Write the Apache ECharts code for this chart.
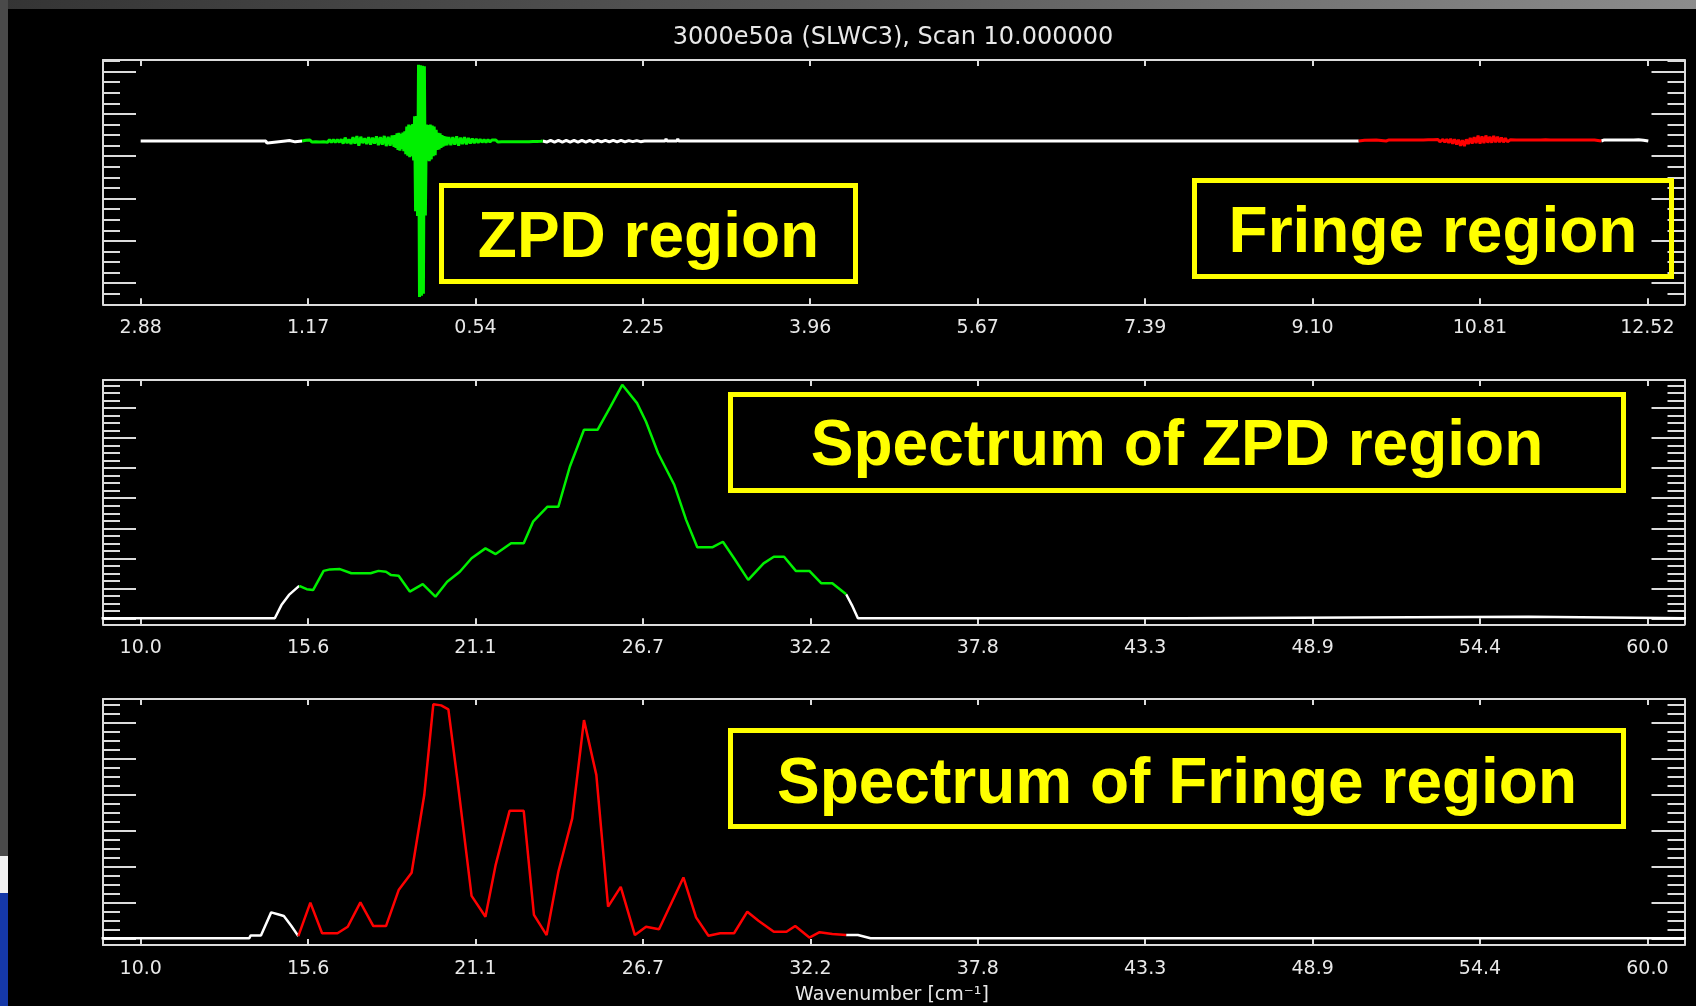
<!DOCTYPE html>
<html>
<head>
<meta charset="utf-8">
<title>3000e50a (SLWC3), Scan 10.000000</title>
<script src="https://cdn.jsdelivr.net/npm/echarts@6/dist/echarts.min.js"></script>
<style>
  html, body { margin: 0; padding: 0; background: #000; }
  #chart { width: 1696px; height: 1006px; }
</style>
</head>
<body>
<div id="chart"></div>
<script>
// ---------- tick values and labels ----------
const opdTickValues = [-2.880, -1.169, 0.542, 2.253, 3.964, 5.676, 7.387, 9.098, 10.809, 12.520];
const opdTickLabels = ['2.88', '1.17', '0.54', '2.25', '3.96', '5.67', '7.39', '9.10', '10.81', '12.52'];
const wnTickValues = [10.0, 15.556, 21.111, 26.667, 32.222, 37.778, 43.333, 48.889, 54.444, 60.0];
const wnTickLabels = ['10.0', '15.6', '21.1', '26.7', '32.2', '37.8', '43.3', '48.9', '54.4', '60.0'];

const ifgMajorTicks = [0.4, 0.2, 0.0, -0.2, -0.4, -0.6];
const ifgMinorTicks = [0.45, 0.35, 0.30, 0.25, 0.15, 0.10, 0.05, -0.05, -0.10, -0.15, -0.25, -0.30,
                       -0.35, -0.45, -0.50, -0.55, -0.65, -0.70];
const zpdMajorTicks = [0, 1, 2, 3, 4, 5, 6, 7];
const zpdMinorTicks = [0.25, 0.5, 0.75, 1.25, 1.5, 1.75, 2.25, 2.5, 2.75, 3.25, 3.5, 3.75,
                       4.25, 4.5, 4.75, 5.25, 5.5, 5.75, 6.25, 6.5, 6.75, 7.25, 7.5, 7.75];
const frgMajorTicks = [0, 1, 2, 3, 4, 5, 6];
const frgMinorTicks = [0.25, 0.5, 0.75, 1.25, 1.5, 1.75, 2.25, 2.5, 2.75, 3.25, 3.5, 3.75,
                       4.25, 4.5, 4.75, 5.25, 5.5, 5.75, 6.25, 6.5];

// ---------- interferogram: [OPD (cm), signal] ----------
const ifgWhiteLeft = [[-2.88, 0.072], [-1.60, 0.072], [-1.59, 0.062], [-1.56, 0.064], [-1.55, 0.072],
  [-1.40, 0.072], [-1.38, 0.068], [-1.36, 0.074], [-1.30, 0.068], [-1.28, 0.074], [-1.23, 0.072]];

const ifgZpd = [
  [-1.23, 0.072], [-1.21, 0.068], [-1.19, 0.076], [-1.17, 0.068], [-1.15, 0.077], [-1.13, 0.067],
  [-1.11, 0.076], [-1.09, 0.068], [-1.07, 0.077], [-1.05, 0.067], [-1.03, 0.076], [-1.01, 0.068],
  [-0.99, 0.077], [-0.97, 0.066], [-0.95, 0.078], [-0.93, 0.066], [-0.91, 0.078], [-0.89, 0.065],
  [-0.87, 0.079], [-0.85, 0.066], [-0.83, 0.080], [-0.81, 0.060], [-0.79, 0.088], [-0.77, 0.062],
  [-0.75, 0.080], [-0.73, 0.058], [-0.71, 0.090], [-0.69, 0.060], [-0.67, 0.095], [-0.65, 0.050],
  [-0.63, 0.092], [-0.61, 0.062], [-0.59, 0.085], [-0.57, 0.058], [-0.55, 0.090], [-0.53, 0.055],
  [-0.51, 0.088], [-0.49, 0.060], [-0.47, 0.094], [-0.45, 0.052], [-0.43, 0.090], [-0.41, 0.055],
  [-0.39, 0.096], [-0.37, 0.048], [-0.35, 0.092], [-0.33, 0.050], [-0.31, 0.098], [-0.29, 0.045],
  [-0.28, 0.100], [-0.27, 0.040],
  [-0.26, 0.108], [-0.25, 0.030], [-0.24, 0.111], [-0.23, 0.026], [-0.22, 0.105], [-0.21, 0.035],
  [-0.20, 0.112], [-0.19, 0.024], [-0.18, 0.118], [-0.17, 0.010], [-0.16, 0.140], [-0.15, 0.002],
  [-0.14, 0.150], [-0.13, -0.004], [-0.12, 0.146], [-0.11, 0.000], [-0.10, 0.152], [-0.09, -0.020],
  [-0.08, 0.189], [-0.07, -0.260], [-0.06, 0.190], [-0.05, -0.282], [-0.04, 0.432], [-0.03, -0.665],
  [-0.02, 0.430], [-0.01, -0.660], [0.00, 0.428], [0.01, -0.650], [0.02, 0.425], [0.03, -0.280],
  [0.04, 0.150], [0.05, -0.020], [0.06, 0.148], [0.07, -0.023], [0.08, 0.150], [0.09, -0.015],
  [0.10, 0.145], [0.11, 0.000], [0.12, 0.140], [0.13, 0.005], [0.14, 0.125], [0.15, 0.030],
  [0.16, 0.111], [0.17, 0.032], [0.18, 0.108], [0.19, 0.040], [0.20, 0.100], [0.21, 0.045],
  [0.22, 0.095],
  [0.23, 0.050], [0.24, 0.092], [0.25, 0.052], [0.27, 0.091], [0.29, 0.053], [0.31, 0.090],
  [0.33, 0.055], [0.35, 0.094], [0.37, 0.050], [0.39, 0.088], [0.41, 0.058], [0.43, 0.090],
  [0.45, 0.056], [0.47, 0.086], [0.49, 0.060], [0.51, 0.084], [0.53, 0.062], [0.55, 0.082],
  [0.57, 0.064], [0.59, 0.080], [0.61, 0.066], [0.63, 0.078], [0.65, 0.066], [0.67, 0.078],
  [0.69, 0.067], [0.71, 0.077], [0.73, 0.068], [0.75, 0.077], [0.77, 0.067], [0.79, 0.076],
  [0.81, 0.068], [0.83, 0.076], [0.85, 0.068], [0.87, 0.076], [0.89, 0.068], [0.91, 0.075],
  [0.93, 0.069], [0.95, 0.075], [0.97, 0.069], [0.99, 0.075], [1.01, 0.069], [1.03, 0.075],
  [1.05, 0.069], [1.07, 0.075], [1.09, 0.069], [1.11, 0.074], [1.13, 0.070], [1.15, 0.074],
  [1.17, 0.070], [1.19, 0.074], [1.21, 0.071], [1.23, 0.072]];

const ifgWhiteMid = [
  [1.23, 0.072], [1.27, 0.067], [1.31, 0.075], [1.35, 0.067], [1.39, 0.075], [1.43, 0.067],
  [1.47, 0.075], [1.51, 0.067], [1.55, 0.075], [1.59, 0.067], [1.63, 0.075], [1.67, 0.067],
  [1.71, 0.075], [1.75, 0.067], [1.79, 0.075], [1.83, 0.068], [1.87, 0.075], [1.91, 0.068],
  [1.95, 0.075], [1.99, 0.068], [2.03, 0.075], [2.07, 0.068], [2.11, 0.074], [2.15, 0.069],
  [2.19, 0.074], [2.23, 0.069], [2.27, 0.072], [2.48, 0.072], [2.49, 0.082], [2.50, 0.072],
  [2.60, 0.072], [2.61, 0.082], [2.62, 0.072], [9.57, 0.072]];

const ifgFringe = [
  [9.57, 0.072], [9.63, 0.076], [9.65, 0.072], [9.75, 0.077], [9.77, 0.072], [9.85, 0.072],
  [9.88, 0.077], [9.90, 0.072], [9.93, 0.077], [9.95, 0.072], [9.98, 0.077], [10.00, 0.071],
  [10.03, 0.077], [10.05, 0.071], [10.08, 0.077], [10.10, 0.071], [10.13, 0.077], [10.15, 0.071],
  [10.18, 0.077], [10.20, 0.071], [10.23, 0.077], [10.25, 0.071], [10.28, 0.078], [10.30, 0.070],
  [10.33, 0.078], [10.35, 0.070], [10.38, 0.079], [10.40, 0.068], [10.43, 0.080], [10.45, 0.066],
  [10.47, 0.080], [10.49, 0.064], [10.51, 0.082], [10.53, 0.060], [10.55, 0.080], [10.57, 0.056],
  [10.59, 0.078], [10.61, 0.050], [10.63, 0.076], [10.65, 0.048], [10.67, 0.080], [10.69, 0.058],
  [10.71, 0.086], [10.73, 0.060], [10.75, 0.090], [10.77, 0.062], [10.79, 0.097], [10.81, 0.060],
  [10.83, 0.094], [10.85, 0.062], [10.87, 0.098], [10.89, 0.064], [10.91, 0.092], [10.93, 0.064],
  [10.95, 0.096], [10.97, 0.066], [10.99, 0.092], [11.01, 0.066], [11.03, 0.088], [11.05, 0.066],
  [11.07, 0.085], [11.09, 0.068], [11.12, 0.078], [11.14, 0.070], [11.18, 0.077], [11.20, 0.071],
  [11.23, 0.077], [11.25, 0.071], [11.28, 0.077], [11.30, 0.071], [11.33, 0.077], [11.35, 0.071],
  [11.38, 0.077], [11.40, 0.071], [11.43, 0.077], [11.45, 0.071], [11.48, 0.078], [11.50, 0.070],
  [11.53, 0.077], [11.55, 0.071], [11.58, 0.077], [11.60, 0.071], [11.63, 0.077], [11.65, 0.071],
  [11.68, 0.077], [11.70, 0.071], [11.73, 0.077], [11.75, 0.071], [11.78, 0.077], [11.80, 0.071],
  [11.83, 0.077], [11.85, 0.071], [11.88, 0.077], [11.90, 0.071], [11.93, 0.077], [11.95, 0.071],
  [11.98, 0.077], [12.00, 0.071], [12.05, 0.072]];

const ifgWhiteRight = [
  [12.05, 0.072], [12.08, 0.077], [12.10, 0.071], [12.13, 0.077], [12.15, 0.071], [12.18, 0.077],
  [12.20, 0.071], [12.23, 0.077], [12.25, 0.071], [12.28, 0.077], [12.30, 0.071], [12.33, 0.077],
  [12.35, 0.071], [12.38, 0.077], [12.40, 0.071], [12.43, 0.078], [12.45, 0.069], [12.48, 0.076],
  [12.53, 0.072]];

// ---------- spectrum of the ZPD region: [wavenumber (cm-1), amplitude] ----------
const zpdSpecWhiteLo = [[8.7, 0], [14.45, 0], [14.67, 0.44], [14.92, 0.78], [15.26, 1.08]];
const zpdSpec = [
  [15.26, 1.08], [15.51, 0.97], [15.72, 0.94], [16.07, 1.58], [16.28, 1.63], [16.61, 1.64],
  [16.99, 1.50], [17.63, 1.50], [17.89, 1.58], [18.14, 1.55], [18.31, 1.44], [18.56, 1.42],
  [18.93, 0.89], [19.36, 1.14], [19.78, 0.72], [20.17, 1.22], [20.59, 1.55], [20.98, 2.00],
  [21.44, 2.33], [21.78, 2.14], [22.29, 2.50], [22.71, 2.50], [23.02, 3.22], [23.50, 3.72],
  [23.86, 3.72], [24.24, 5.05], [24.71, 6.28], [25.16, 6.28], [25.59, 7.05], [25.98, 7.78],
  [26.47, 7.17], [26.77, 6.55], [27.17, 5.50], [27.71, 4.44], [28.10, 3.28], [28.47, 2.37],
  [28.98, 2.37], [29.32, 2.55], [29.69, 2.00], [30.16, 1.28], [30.67, 1.83], [31.01, 2.05],
  [31.35, 2.05], [31.74, 1.58], [32.19, 1.58], [32.58, 1.17], [32.95, 1.17], [33.41, 0.80]];
const zpdSpecWhiteHi = [[33.41, 0.80], [33.60, 0.44], [33.80, 0], [44.55, 0], [44.56, 0.05],
  [56.06, 0.05], [56.07, 0], [61.5, 0]];

// ---------- spectrum of the fringe region ----------
const frgSpecWhiteLo = [[8.7, 0], [13.60, 0], [13.65, 0.08], [13.99, 0.08], [14.33, 0.72],
  [14.55, 0.67], [14.75, 0.62], [15.00, 0.34], [15.23, 0.06]];
const frgSpec = [
  [15.23, 0.06], [15.63, 0.99], [16.02, 0.14], [16.53, 0.14], [16.87, 0.32], [17.29, 1.00],
  [17.72, 0.34], [18.14, 0.34], [18.56, 1.34], [18.99, 1.82], [19.41, 3.98], [19.71, 6.50],
  [19.97, 6.47], [20.21, 6.36], [20.51, 4.40], [20.98, 1.18], [21.44, 0.60], [21.78, 2.04],
  [22.24, 3.54], [22.71, 3.54], [23.05, 0.65], [23.47, 0.09], [23.86, 1.85], [24.32, 3.33],
  [24.71, 6.06], [25.12, 4.54], [25.51, 0.88], [25.93, 1.43], [26.40, 0.09], [26.77, 0.32],
  [27.20, 0.25], [28.01, 1.69], [28.43, 0.58], [28.84, 0.07], [29.23, 0.14], [29.69, 0.14],
  [30.13, 0.74], [30.50, 0.49], [31.01, 0.18], [31.43, 0.18], [31.72, 0.34], [32.19, 0.02],
  [32.53, 0.17], [32.95, 0.12], [33.41, 0.09]];
const frgSpecWhiteHi = [[33.41, 0.09], [33.80, 0.09], [34.22, 0], [61.5, 0]];

// ---------- styling ----------
const FRAME = '#dcdcdc';
const TEXT = '#e8e8e8';
const YELLOW = '#ffff00';
const WHITE = '#ffffff';
const GREEN = '#00f000';
const RED = '#ff0000';

const panels = [
  { grid: { left: 103, top: 60, width: 1581.5, height: 244.3 },
    x: [-3.265, 12.90], y: [-0.70, 0.455],
    xTicks: opdTickValues, xLabels: opdTickLabels, yMajor: ifgMajorTicks, yMinor: ifgMinorTicks },
  { grid: { left: 103, top: 380, width: 1581.5, height: 244.3 },
    x: [8.749, 61.23], y: [-0.2, 7.94],
    xTicks: wnTickValues, xLabels: wnTickLabels, yMajor: zpdMajorTicks, yMinor: zpdMinorTicks },
  { grid: { left: 103, top: 699, width: 1581.5, height: 246 },
    x: [8.749, 61.23], y: [-0.186, 6.647],
    xTicks: wnTickValues, xLabels: wnTickLabels, yMajor: frgMajorTicks, yMinor: frgMinorTicks }
];

const grids = [], xAxes = [], yAxes = [];
panels.forEach((p, g) => {
  grids.push(Object.assign({ containLabel: false }, p.grid));
  const tickStyle = { color: FRAME, width: 2 };
  const fmt = v => {
    const i = p.xTicks.findIndex(t => Math.abs(t - v) < 1e-6);
    return i >= 0 ? p.xLabels[i] : '';
  };
  ['bottom', 'top'].forEach(pos => {
    xAxes.push({
      gridIndex: g, type: 'value', position: pos, min: p.x[0], max: p.x[1],
      axisLine: { show: true, onZero: false, lineStyle: { color: FRAME, width: 2 } },
      axisTick: { show: true, inside: true, length: 6, customValues: p.xTicks, lineStyle: tickStyle },
      axisLabel: {
        show: pos === 'bottom', customValues: p.xTicks, formatter: fmt, margin: 14.5,
        color: TEXT, fontFamily: 'DejaVu Sans', fontSize: 19
      },
      splitLine: { show: false }, splitArea: { show: false }
    });
  });
  ['left', 'right'].forEach(pos => {
    [[p.yMajor, 33, true], [p.yMinor, 17, false]].forEach(([ticks, len, line]) => {
      yAxes.push({
        gridIndex: g, type: 'value', position: pos, min: p.y[0], max: p.y[1],
        axisLine: { show: line, onZero: false, lineStyle: { color: FRAME, width: 2 } },
        axisTick: { show: true, inside: true, length: len, customValues: ticks, lineStyle: tickStyle },
        axisLabel: { show: false },
        splitLine: { show: false }, splitArea: { show: false }
      });
    });
  });
});

function trace(g, data, color, width) {
  return {
    type: 'line', xAxisIndex: g * 2, yAxisIndex: g * 4, data: data,
    showSymbol: false, symbol: 'none', clip: true, silent: true, animation: false,
    lineStyle: { color: color, width: width }, itemStyle: { color: color }, z: 3
  };
}

const series = [
  trace(0, ifgWhiteLeft, WHITE, 3),
  trace(0, ifgWhiteMid, WHITE, 3),
  trace(0, ifgWhiteRight, WHITE, 3),
  trace(0, ifgZpd, GREEN, 3),
  trace(0, ifgFringe, RED, 3),
  trace(1, zpdSpecWhiteLo, WHITE, 2.5),
  trace(1, zpdSpecWhiteHi, WHITE, 2.5),
  trace(1, zpdSpec, GREEN, 2.5),
  trace(2, frgSpecWhiteLo, WHITE, 2.5),
  trace(2, frgSpecWhiteHi, WHITE, 2.5),
  trace(2, frgSpec, RED, 2.5)
];

// labelled boxes
function box(x, y, w, h, label, cy) {
  return [
    { type: 'rect', silent: true, z: 10,
      shape: { x: x, y: y, width: w, height: h },
      style: { fill: 'none', stroke: YELLOW, lineWidth: 5 } },
    { type: 'text', silent: true, z: 10, x: x + w / 2, y: cy,
      style: { text: label, fill: YELLOW, font: 'bold 64px "Liberation Sans", Arial, sans-serif',
               align: 'center', verticalAlign: 'middle', textAlign: 'center', textVerticalAlign: 'middle' } }
  ];
}

const graphic = [
  { type: 'rect', silent: true, z: 0, shape: { x: 0, y: 0, width: 1696, height: 9 },
    style: { fill: new echarts.graphic.LinearGradient(0, 0, 1, 0, [
      { offset: 0, color: '#343434' }, { offset: 0.5, color: '#5a5a5a' }, { offset: 1, color: '#8c8c8c' }]) } },
  { type: 'rect', silent: true, z: 0, shape: { x: 0, y: 0, width: 8, height: 856 }, style: { fill: '#4a4a4a' } },
  { type: 'rect', silent: true, z: 0, shape: { x: 0, y: 856, width: 8, height: 37 }, style: { fill: '#f2f2f2' } },
  { type: 'rect', silent: true, z: 0, shape: { x: 0, y: 893, width: 8, height: 113 }, style: { fill: '#1538a8' } },
  { type: 'text', silent: true, z: 10, x: 893, y: 38,
    style: { text: '3000e50a (SLWC3), Scan 10.000000', fill: TEXT, font: '24px "DejaVu Sans"',
             align: 'center', verticalAlign: 'middle', textAlign: 'center', textVerticalAlign: 'middle' } },
  { type: 'text', silent: true, z: 10, x: 892, y: 995,
    style: { text: 'Wavenumber [cm\u207B\u00B9]', fill: TEXT, font: '19px "DejaVu Sans"',
             align: 'center', verticalAlign: 'middle', textAlign: 'center', textVerticalAlign: 'middle' } }
].concat(
  box(441.5, 185.5, 414, 96, 'ZPD region', 239),
  box(1194.5, 180.5, 477, 96, 'Fringe region', 234),
  box(730.5, 394.5, 893, 96, 'Spectrum of ZPD region', 447),
  box(730.5, 730.5, 893, 96, 'Spectrum of Fringe region', 785)
);

const chart = echarts.init(document.getElementById('chart'), null, { renderer: 'canvas' });
chart.setOption({
  backgroundColor: '#000000',
  animation: false,
  grid: grids,
  xAxis: xAxes,
  yAxis: yAxes,
  series: series,
  graphic: graphic
});
</script>
</body>
</html>
